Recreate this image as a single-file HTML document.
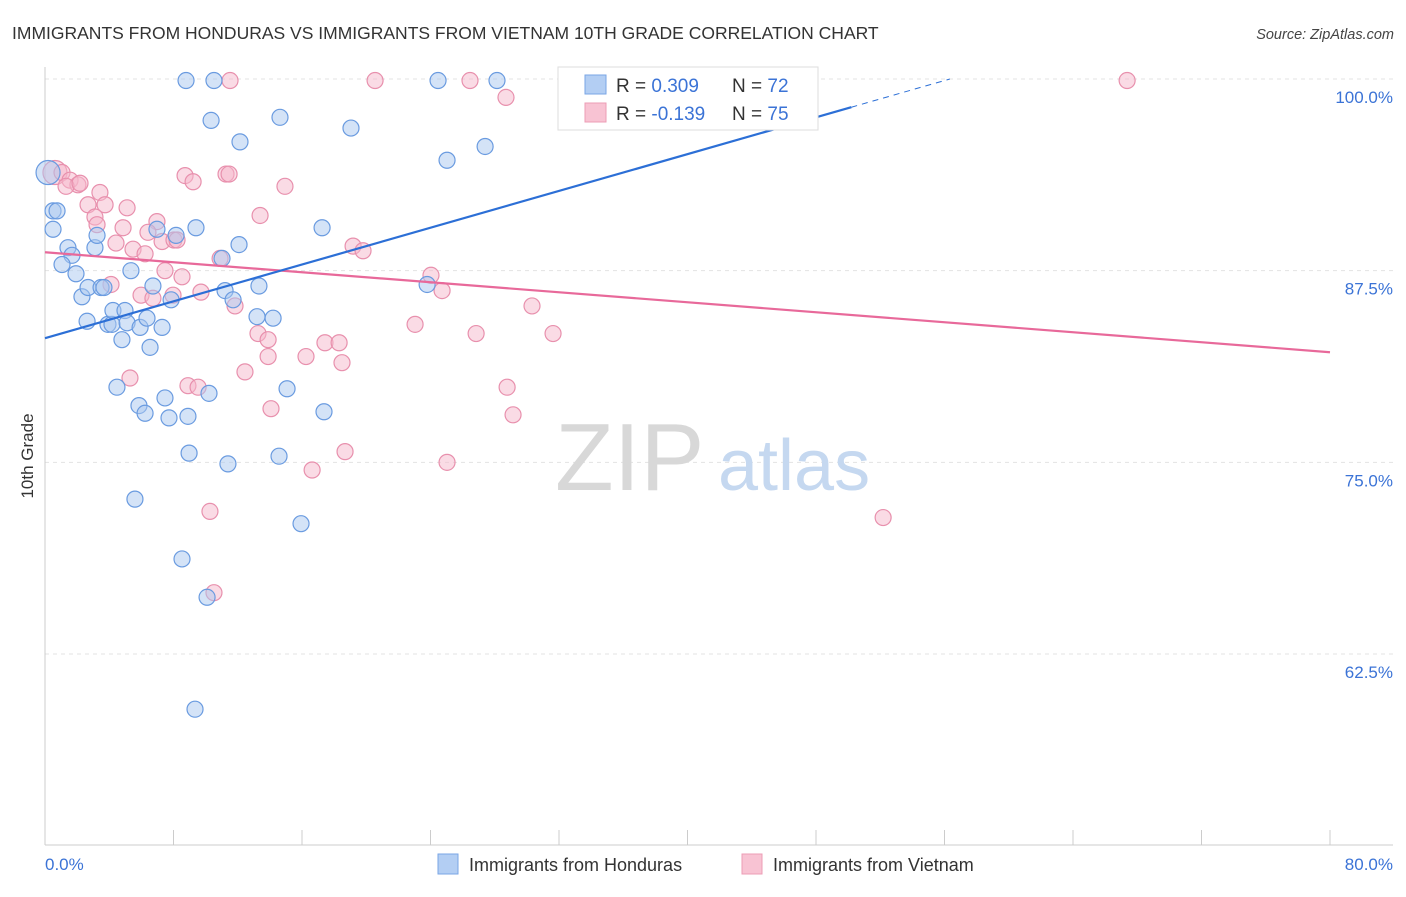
<!DOCTYPE html>
<html><head><meta charset="utf-8">
<style>
body{margin:0;background:#fff;font-family:"Liberation Sans",sans-serif;}
svg text{font-family:"Liberation Sans",sans-serif;}
</style></head>
<body>
<svg id="chart" width="1406" height="892" viewBox="0 0 1406 892" xmlns="http://www.w3.org/2000/svg">
<text x="12" y="39" font-size="17.5" fill="#333">IMMIGRANTS FROM HONDURAS VS IMMIGRANTS FROM VIETNAM 10TH GRADE CORRELATION CHART</text>
<text x="1394" y="39" font-size="14.5" fill="#444" font-style="italic" text-anchor="end">Source: ZipAtlas.com</text>
<g id="grid"></g>
<g>
<text x="555" y="490" font-size="96" fill="#d8d8d8" font-family="Liberation Serif, serif">ZIP</text>
<text x="718" y="490" font-size="72" fill="#c5d8f0">atlas</text>
</g>
<line x1="45" y1="67" x2="45" y2="845" stroke="#ccc"/>
<line x1="45" y1="845" x2="1393" y2="845" stroke="#ccc"/>
<g id="xticks"></g>
<g id="ylabels"></g>
<text x="45" y="870" font-size="17" fill="#3b73d6">0.0%</text>
<text x="1393" y="870" font-size="17" fill="#3b73d6" text-anchor="end">80.0%</text>
<text transform="translate(33,456) rotate(-90)" font-size="17" fill="#333" text-anchor="middle">10th Grade</text>
<g id="pts"></g>
<g id="lines"></g>
<g>
<rect x="558" y="67" width="260" height="63" fill="#fff" stroke="#ddd"/>
<rect x="585" y="75" width="21" height="19" fill="#b3cef3" stroke="#7aa6e6"/>
<rect x="585" y="103" width="21" height="19" fill="#f8c3d3" stroke="#ec9cb6"/>
<text x="616" y="92" font-size="19" fill="#333">R = <tspan fill="#3b73d6">0.309</tspan></text>
<text x="732" y="92" font-size="19" fill="#333">N = <tspan fill="#3b73d6">72</tspan></text>
<text x="616" y="120" font-size="19" fill="#333">R = <tspan fill="#3b73d6">-0.139</tspan></text>
<text x="732" y="120" font-size="19" fill="#333">N = <tspan fill="#3b73d6">75</tspan></text>
</g>
<g>
<rect x="438" y="854" width="20" height="20" fill="#b3cef3" stroke="#7aa6e6"/>
<text x="469" y="871" font-size="18" fill="#333">Immigrants from Honduras</text>
<rect x="742" y="854" width="20" height="20" fill="#f8c3d3" stroke="#ec9cb6"/>
<text x="773" y="871" font-size="18" fill="#333">Immigrants from Vietnam</text>
</g>
</svg>
<script>
const yTicks=[100,87.5,75,62.5];
const yTickLabels=["100.0%","87.5%","75.0%","62.5%"];
const xTicks=[0,8,16,24,32,40,48,56,64,72,80];
const hondurasX=[8.78,10.52,24.47,28.14,41.53,10.34,14.63,19.05,12.14,25.03,27.4,0.19,0.5,0.75,0.5,1.43,1.68,1.06,1.93,3.11,3.24,6.97,8.16,9.4,12.08,17.25,11.02,5.35,2.3,2.68,3.49,3.67,6.72,7.85,11.21,11.71,13.32,2.62,3.92,4.17,4.23,4.98,5.11,5.92,6.35,7.29,4.79,6.54,13.2,14.2,23.79,4.48,7.47,5.85,6.23,7.72,8.9,10.21,15.07,17.37,8.97,11.39,14.57,5.6,15.94,8.53,10.09,9.34];
const hondurasY=[99.9,99.9,99.9,99.9,99.9,97.3,97.5,96.8,95.9,94.7,95.6,93.9,91.4,91.4,90.2,89.0,88.5,87.9,87.3,89.0,89.8,90.2,89.8,90.3,89.2,90.3,88.3,87.5,85.8,86.4,86.4,86.4,86.5,85.6,86.2,85.6,86.5,84.2,84.0,84.0,84.9,84.9,84.1,83.8,84.4,83.8,83.0,82.5,84.5,84.4,86.6,79.9,79.2,78.7,78.2,77.9,78.0,79.5,79.8,78.3,75.6,74.9,75.4,72.6,71.0,68.7,66.2,58.9];
const vietnamX=[11.52,20.55,26.46,43.15,67.37,28.7,0.62,1.06,1.56,2.05,1.31,2.18,3.42,2.68,3.74,5.11,3.11,3.24,4.86,6.97,8.72,9.22,11.27,11.46,14.94,13.39,4.42,5.48,6.23,7.29,6.41,8.03,8.22,4.11,5.98,6.72,7.47,8.53,10.9,9.71,11.83,7.97,19.18,19.8,24.03,24.72,30.32,13.26,13.89,13.89,16.25,17.43,18.31,18.49,23.04,26.84,31.63,5.29,8.9,9.53,12.45,14.07,28.77,29.14,16.63,18.68,25.03,10.27,10.52,52.18];
const vietnamY=[99.9,99.9,99.9,99.9,99.9,98.8,93.9,93.9,93.4,93.1,93.0,93.2,92.6,91.8,91.8,91.6,91.0,90.5,90.3,90.7,93.7,93.3,93.8,93.8,93.0,91.1,89.3,88.9,88.6,89.4,90.0,89.5,89.5,86.6,85.9,85.7,87.5,87.1,88.3,86.1,85.2,85.9,89.1,88.8,87.2,86.2,85.2,83.4,83.0,81.9,81.9,82.8,82.8,81.5,84.0,83.4,83.4,80.5,80.0,79.9,80.9,78.5,79.9,78.1,74.5,75.7,75.0,71.8,66.5,71.4];
const hondurasTrend=[83.1,0.3];   // intercept, slope
const vietnamTrend=[88.7,-0.0815];

const NS="http://www.w3.org/2000/svg";
const sx=v=>45+v*(1285/80);
const sy=v=>79+(100-v)*(191.67/12.5);
function mk(tag,attrs,parent){const e=document.createElementNS(NS,tag);for(const k in attrs)e.setAttribute(k,attrs[k]);parent.appendChild(e);return e;}
const grid=document.getElementById('grid'),yl=document.getElementById('ylabels'),xt=document.getElementById('xticks');
yTicks.forEach((t,i)=>{
 const l=mk('line',{x1:45,x2:1393,y1:sy(t),y2:sy(t),stroke:'#e3e3e3','stroke-dasharray':'4,4'},grid);
 
 
 const tx=mk('text',{x:1393,y:sy(t)+24,'font-size':17,fill:'#3b73d6','text-anchor':'end'},yl);
 tx.textContent=yTickLabels[i];
 
 
});
xTicks.forEach(t=>{
 const l=mk('line',{x1:sx(t),x2:sx(t),y1:830,y2:845,stroke:'#ccc'},xt);
 
 
});
const pts=document.getElementById('pts');
function series(X,Y,fill,stroke,name){
 X.forEach((x,i)=>{
  const big=(x<0.8&&Y[i]>93);
  const c=mk('circle',{cx:sx(x),cy:sy(Y[i]),r:big?12:8,fill:fill,'fill-opacity':0.5,stroke:stroke,'stroke-width':1.2},pts);
  
  
 });
}
series(vietnamX,vietnamY,'#f5b8cb','#e890ad','vietnam-point');
series(hondurasX,hondurasY,'#a9c7f0','#6a9be0','honduras-point');
const lines=document.getElementById('lines');
let l=mk('line',{x1:sx(0),y1:sy(vietnamTrend[0]),x2:sx(80),y2:sy(vietnamTrend[0]+80*vietnamTrend[1]),stroke:'#e8699a','stroke-width':2.2},lines);


const xEnd=50.2, xTop=(100-hondurasTrend[0])/hondurasTrend[1];
l=mk('line',{x1:sx(0),y1:sy(hondurasTrend[0]),x2:sx(xEnd),y2:sy(hondurasTrend[0]+xEnd*hondurasTrend[1]),stroke:'#2c6fd6','stroke-width':2.2},lines);


l=mk('line',{x1:sx(xEnd),y1:sy(hondurasTrend[0]+xEnd*hondurasTrend[1]),x2:sx(xTop),y2:sy(100),stroke:'#2c6fd6','stroke-width':1,'stroke-dasharray':'6,5'},lines);


</script>
</body></html>
